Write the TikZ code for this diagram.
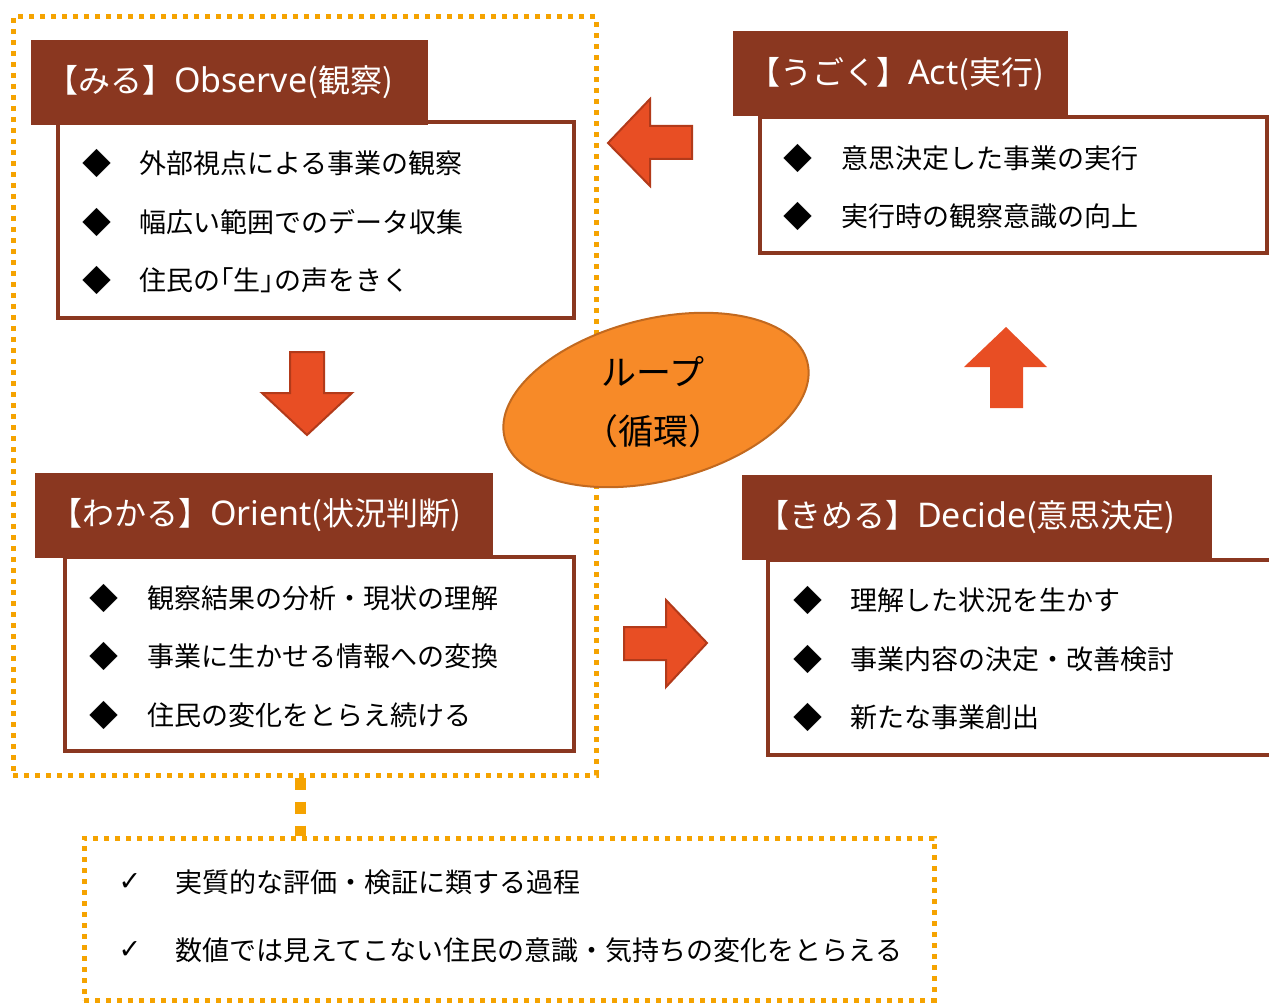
\documentclass[tikz,border=0pt]{standalone}
\usepackage{fontspec}
\setmainfont{Noto Sans CJK JP}
\newfontfamily\djv{DejaVu Sans}
\newfontfamily\latf{Noto Sans}
\newcommand\latw[1]{{\latf\fontsize{34}{38}\selectfont #1}}
\usetikzlibrary{shapes.geometric,calc}
\definecolor{brownc}{HTML}{8A3720}
\definecolor{arrowfill}{HTML}{E84E24}
\definecolor{arrowline}{HTML}{B23A1A}
\definecolor{dotc}{HTML}{F5A300}
\definecolor{ellfill}{HTML}{F78A28}
\definecolor{elldraw}{HTML}{C2691F}
\begin{document}
\begin{tikzpicture}[x=1pt,y=-1pt,
  frame/.style={rectangle,draw=dotc,line width=5pt,dash pattern=on 5pt off 6pt,inner sep=0pt},
  hdr/.style={rectangle,fill=brownc,text=white,inner ysep=0pt,inner xsep=15pt,minimum height=85pt,align=left,font=\fontsize{32}{38}\selectfont},
  body/.style={rectangle,draw=brownc,line width=4pt,fill=white,inner sep=0pt},
  bul/.style={font=\fontsize{29}{32}\selectfont,inner sep=0pt},
  chk/.style={font=\djv\fontsize{27}{30}\selectfont,inner sep=0pt},
  item/.style={anchor=west,font=\fontsize{27}{32}\selectfont,inner sep=0pt},
  blk/.style={fill=arrowfill,draw=arrowline,line width=2pt,line join=miter},
  conn/.style={draw=dotc,line width=11pt,dash pattern=on 12pt off 12pt},
]
\useasboundingbox (0,0) rectangle (1269,1003);

% dotted frames
\node[frame,minimum width=583pt,minimum height=758pt] (obsframe) at (304.5,396) {};
\node[frame,minimum width=850pt,minimum height=162pt] (notebox) at (509,919) {};
\coordinate (ct) at ([xshift=-4.5pt]obsframe.south);
\draw[conn] (ct) -- (ct |- notebox.north);

% bodies
\node[body,minimum width=516pt,minimum height=196pt] (obsbody) at (316,220) {};
\node[body,minimum width=509pt,minimum height=194pt] (oribody) at (319.5,654) {};
\node[body,minimum width=507pt,minimum height=136pt] (actbody) at (1013.5,185) {};
\node[body,minimum width=512pt,minimum height=195pt] (decbody) at (1024,657.5) {};

% headers
\node[hdr,text width=367pt] (obshdr) at (229.5,82.5) {【みる】\latw{Observe}(観察)};
\node[hdr,text width=305pt] (acthdr) at (900.5,74) {【うごく】\latw{Act}(実行)};
\node[hdr,text width=428pt] (orihdr) at (264,515) {【わかる】\latw{Orient}(状況判断)};
\node[hdr,text width=440pt] (dechdr) at (977,517.5) {【きめる】\latw{Decide}(意思決定)};

% Observe items
\node[bul] (ob1) at (97,163) {◆};
\node[item] (ot1) at (139,163) {外部視点による事業の観察};
\node[bul] (ob2) at (97,222) {◆};
\node[item] (ot2) at (139,222) {幅広い範囲でのデータ収集};
\node[bul] (ob3) at (97,280) {◆};
\node[item] (ot3) at (139,280) {住民の｢生｣の声をきく};

% Orient items
\node[bul] (rb1) at (104,598) {◆};
\node[item] (rt1) at (147,598) {観察結果の分析・現状の理解};
\node[bul] (rb2) at (104,656) {◆};
\node[item] (rt2) at (147,656) {事業に生かせる情報への変換};
\node[bul] (rb3) at (104,715) {◆};
\node[item] (rt3) at (147,715) {住民の変化をとらえ続ける};

% Act items
\node[bul] (ab1) at (798,158) {◆};
\node[item] (at1) at (841,158) {意思決定した事業の実行};
\node[bul] (ab2) at (798,216) {◆};
\node[item] (at2) at (841,216) {実行時の観察意識の向上};

% Decide items
\node[bul] (db1) at (808,600) {◆};
\node[item] (dt1) at (850,600) {理解した状況を生かす};
\node[bul] (db2) at (808,659) {◆};
\node[item] (dt2) at (850,659) {事業内容の決定・改善検討};
\node[bul] (db3) at (808,717) {◆};
\node[item] (dt3) at (850,717) {新たな事業創出};

% note items
\node[chk] (nc1) at (130,882) {✓};
\node[item] (nt1) at (175,882) {実質的な評価・検証に類する過程};
\node[chk] (nc2) at (130,950) {✓};
\node[item] (nt2) at (175,950) {数値では見えてこない住民の意識・気持ちの変化をとらえる};

% block arrows
\draw[blk] (290,352) -- (324,352) -- (324,393) -- (352,393) -- (307,435) -- (262,393) -- (290,393) -- cycle;
\draw[blk] (692,126) -- (650,126) -- (650,99) -- (608,143) -- (650,186) -- (650,159) -- (692,159) -- cycle;
\draw[blk] (624,627) -- (666,627) -- (666,600) -- (707,643) -- (666,687) -- (666,660) -- (624,660) -- cycle;
\fill[arrowfill] (990,408) -- (990,367) -- (964,367) -- (1006,327) -- (1047,367) -- (1023,367) -- (1023,408) -- cycle;

% loop ellipse
\draw[fill=ellfill,draw=elldraw,line width=2pt,rotate around={14:(656,400)}] (656,400) ellipse [x radius=156pt, y radius=81pt];
\node[align=center,inner sep=0pt,font=\fontsize{35}{59}\selectfont] (loop) at (653,402) {ループ\\（循環）};
\end{tikzpicture}
\end{document}
